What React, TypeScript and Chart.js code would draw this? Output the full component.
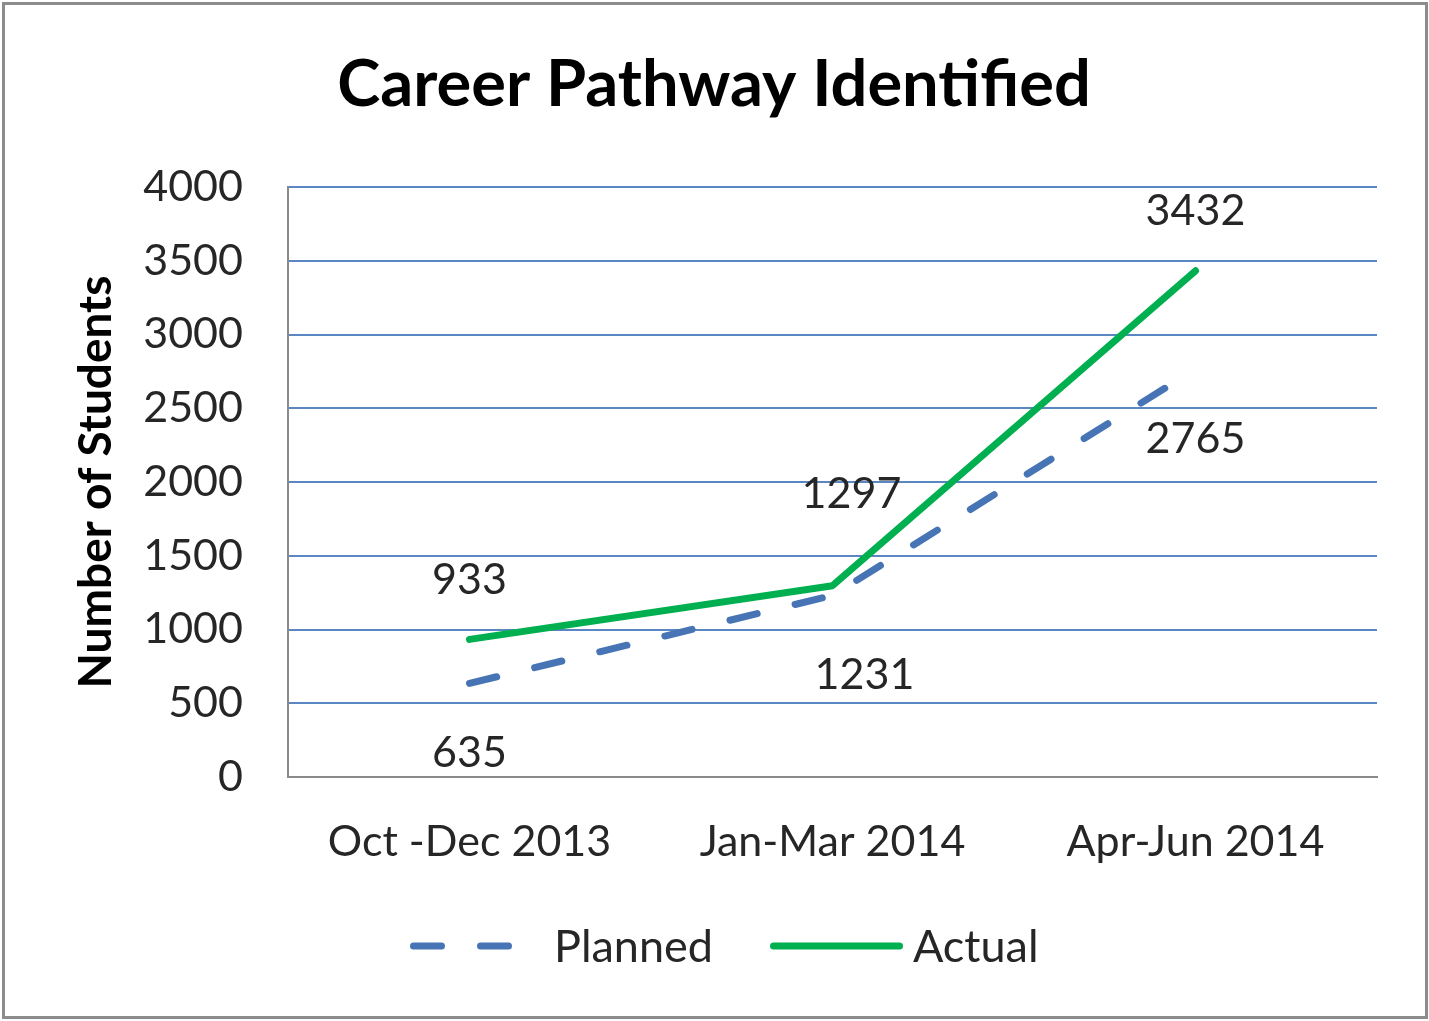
import React, { useEffect, useRef } from "react";
import { Chart, registerables } from "chart.js";

Chart.register(...registerables);

// ---- data ----
const categories = ["Oct -Dec 2013", "Jan-Mar 2014", "Apr-Jun 2014"];
const plannedValues = [635, 1231, 2765];
const actualValues = [933, 1297, 3432];
const seriesNames = ["Planned", "Actual"];
const chartTitle = "Career Pathway Identified";
const yAxisTitle = "Number of Students";
const yMin = 0;
const yMax = 4000;
const yStep = 500;

// ---- styling ----
const FONT = "Lato, 'Noto Sans', sans-serif";
const PLANNED_COLOR = "#4674b4";
const ACTUAL_COLOR = "#00b050";
const GRID_COLOR = "#5a86c2";
const AXIS_COLOR = "#8a8a8a";
const TEXT_COLOR = "#262626";
const DASH = [28, 39];
// label offsets (dx, dy) from each point to label centre
const plannedLabelOffsets = [[0, 68], [32, 78], [0, 68]];
const actualLabelOffsets = [[0, -61], [19, -93], [0, -61]];

const decorPlugin = {
  id: "decor",
  beforeDraw(chart: any) {
    const ctx = chart.ctx;
    ctx.save();
    ctx.fillStyle = "#ffffff";
    ctx.fillRect(0, 0, chart.width, chart.height);
    ctx.restore();
  },
  afterDraw(chart: any) {
    const ctx = chart.ctx;
    ctx.save();
    // outer frame
    ctx.strokeStyle = "#8c8c8c";
    ctx.lineWidth = 3;
    ctx.strokeRect(3.5, 3.5, 1423, 1014);

    // title
    ctx.fillStyle = "#000000";
    ctx.font = `bold 65px ${FONT}`;
    ctx.textAlign = "center";
    ctx.textBaseline = "alphabetic";
    ctx.fillText(chartTitle, 714, 106);

    // data labels
    ctx.font = `43px ${FONT}`;
    ctx.fillStyle = TEXT_COLOR;
    const offsetsList = [plannedLabelOffsets, actualLabelOffsets];
    chart.data.datasets.forEach((ds: any, di: number) => {
      const meta = chart.getDatasetMeta(di);
      meta.data.forEach((pt: any, i: number) => {
        const [dx, dy] = offsetsList[di][i];
        ctx.fillText(String(ds.data[i]), pt.x + dx, pt.y + dy + 15.5);
      });
    });

    // legend
    const ly = 946;
    ctx.lineCap = "round";
    ctx.lineWidth = 7;
    ctx.strokeStyle = PLANNED_COLOR;
    ctx.setLineDash(DASH);
    ctx.beginPath();
    ctx.moveTo(413.5, ly);
    ctx.lineTo(509.5, ly);
    ctx.stroke();
    ctx.setLineDash([]);
    ctx.strokeStyle = ACTUAL_COLOR;
    ctx.beginPath();
    ctx.moveTo(773.5, ly);
    ctx.lineTo(899.5, ly);
    ctx.stroke();
    ctx.textAlign = "left";
    ctx.fillStyle = TEXT_COLOR;
    ctx.font = `45px ${FONT}`;
    ctx.fillText(seriesNames[0], 554, ly + 16);
    ctx.fillText(seriesNames[1], 913, ly + 16);
    ctx.restore();
  },
};

export default function App() {
  const ref = useRef<HTMLCanvasElement>(null);
  useEffect(() => {
    if (!ref.current) return;
    const chart = new Chart(ref.current, {
      type: "line",
      data: {
        labels: categories,
        datasets: [
          {
            label: seriesNames[0],
            data: plannedValues,
            borderColor: PLANNED_COLOR,
            backgroundColor: PLANNED_COLOR,
            borderWidth: 7,
            borderDash: DASH,
            borderCapStyle: "round",
            borderJoinStyle: "round",
            pointRadius: 0,
            tension: 0,
          },
          {
            label: seriesNames[1],
            data: actualValues,
            borderColor: ACTUAL_COLOR,
            backgroundColor: ACTUAL_COLOR,
            borderWidth: 7,
            borderCapStyle: "round",
            borderJoinStyle: "round",
            pointRadius: 0,
            tension: 0,
          },
        ],
      },
      options: {
        responsive: false,
        animation: false,
        layout: { padding: { top: 187, right: 52, left: 0, bottom: 0 } },
        plugins: {
          legend: { display: false },
          title: { display: false },
          tooltip: { enabled: false },
        },
        scales: {
          x: {
            type: "category",
            offset: true,
            grid: { display: false, drawTicks: false },
            border: { display: true, color: AXIS_COLOR, width: 2 },
            ticks: {
              color: TEXT_COLOR,
              font: { family: FONT, size: 43 },
              padding: 39,
              maxRotation: 0,
              autoSkip: false,
            },
            afterFit: (scale: any) => {
              scale.height = 244;
            },
          },
          y: {
            min: yMin,
            max: yMax,
            ticks: {
              stepSize: yStep,
              color: TEXT_COLOR,
              font: { family: FONT, size: 43 },
              padding: 45,
              callback: (v: any) => String(v),
            },
            grid: {
              drawTicks: false,
              lineWidth: 2,
              color: (c: any) => (c.tick && c.tick.value === 0 ? AXIS_COLOR : GRID_COLOR),
            },
            border: { display: true, color: AXIS_COLOR, width: 2 },
            title: {
              display: true,
              text: yAxisTitle,
              color: "#000000",
              font: { family: FONT, size: 46, weight: "bold" },
              padding: { top: 69, bottom: 0 },
            },
            afterFit: (scale: any) => {
              scale.width = 288;
            },
          },
        },
      },
      plugins: [decorPlugin],
    });
    return () => chart.destroy();
  }, []);
  return (
    <div style={{ position: "absolute", left: 0, top: 0, width: 1429, height: 1021 }}>
      <canvas ref={ref} width={1429} height={1021} style={{ display: "block" }} />
    </div>
  );
}
